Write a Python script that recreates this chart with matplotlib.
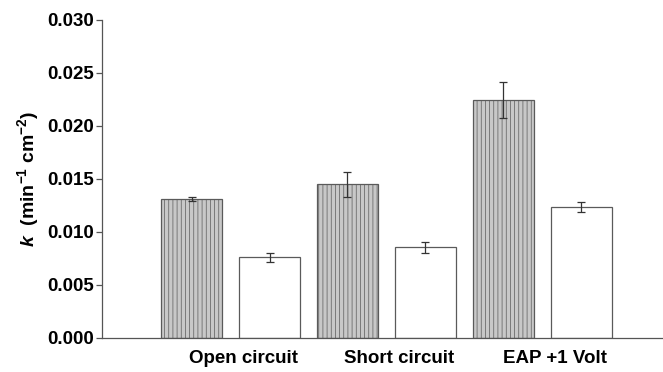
import numpy as np
import matplotlib.pyplot as plt

groups = ["Open circuit", "Short circuit", "EAP +1 Volt"]
gray_vals = [0.0131, 0.0145, 0.02245]
gray_err = [0.0002, 0.0012, 0.0017]
white_vals = [0.0076, 0.00855, 0.0124]
white_err = [0.0004, 0.0005, 0.00047]
yticks = [0.000, 0.005, 0.010, 0.015, 0.020, 0.025, 0.030]


def main():
    plt.rcParams['font.family'] = ['Liberation Sans', 'DejaVu Sans']
    plt.rcParams['mathtext.fontset'] = 'custom'
    plt.rcParams['mathtext.rm'] = 'Liberation Sans:bold'
    plt.rcParams['mathtext.it'] = 'Liberation Sans:italic:bold'
    plt.rcParams['hatch.color'] = '#a4a4a4'
    plt.rcParams['hatch.linewidth'] = 0.5

    fig = plt.figure(figsize=(6.63, 3.72), dpi=100)
    ax = fig.add_axes([0.154, 0.0914, 0.846, 0.855])

    x = np.arange(len(groups)) * 2
    w = 0.78
    ax.bar(x, gray_vals, width=w, yerr=gray_err, color='#c8c8c8', hatch='||||',
           edgecolor='#5a5a5a', linewidth=0.9, capsize=3,
           error_kw=dict(ecolor='#333333', elinewidth=0.9, capthick=0.9))
    ax.bar(x + 1, white_vals, width=w, yerr=white_err, color='white',
           edgecolor='#5a5a5a', linewidth=0.9, capsize=3,
           error_kw=dict(ecolor='#333333', elinewidth=0.9, capthick=0.9))

    ax.set_ylim(0, 0.030)
    ax.set_xlim(-1.15, 6.05)
    ax.set_yticks(yticks)
    ax.set_yticklabels([f"{v:.3f}" for v in yticks], fontweight='bold', fontsize=13.5)
    ax.set_xticks(x + 0.66)
    ax.set_xticklabels(groups, fontweight='bold', fontsize=13.5)
    ax.tick_params(axis='x', length=0, pad=9)
    ax.tick_params(axis='y', length=4, width=0.9, color='#555555', pad=2)

    ax.set_ylabel(r'$k$  (min$^{\mathregular{-1}}$ cm$^{\mathregular{-2}}$)',
                  fontweight='bold', fontsize=14, labelpad=4)

    for s in ['top', 'right']:
        ax.spines[s].set_visible(False)
    for s in ['left', 'bottom']:
        ax.spines[s].set_color('#555555')
        ax.spines[s].set_linewidth(0.9)

    fig.savefig("out.png", dpi=100)


if __name__ == "__main__":
    main()
